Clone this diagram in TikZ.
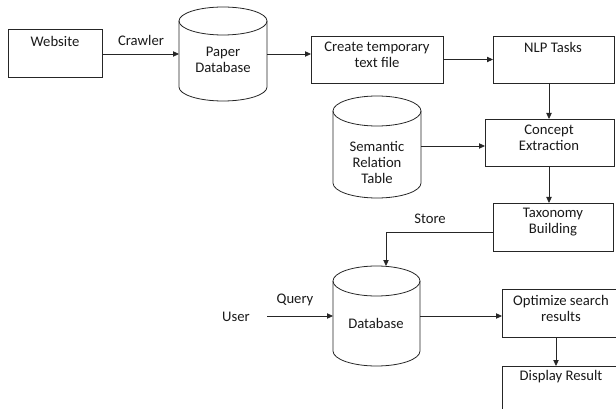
\documentclass[tikz,border=0pt]{standalone}
\usepackage{fontspec}
\setmainfont{Carlito}
\usetikzlibrary{arrows.meta,calc,fit}
\newcommand\mycyl[5]{%
  \pgfmathsetmacro\cylcx{(#1+#2)/2}%
  \pgfmathsetmacro\cylrx{(#2-#1)/2*0.75}%
  \pgfmathsetmacro\cylry{#5*0.75}%
  \draw[cylline] (\cylcx,#3+#5) ellipse [x radius=\cylrx pt, y radius=\cylry pt];
  \draw[cylline] (#1,#3+#5) -- (#1,#4-#5) arc[start angle=180, end angle=360, x radius=\cylrx pt, y radius=\cylry pt] -- (#2,#3+#5);
}
\begin{document}
\begin{tikzpicture}[x=0.75pt,y=-0.75pt,
  every node/.style={inner sep=0pt, outer sep=0pt},
  txt/.style={font=\fontsize{11}{12}\selectfont, align=center, text=black!90},
  box/.style={draw=black!85, line width=0.6pt, fit={#1}},
  cylnode/.style={fit={#1}},
  cylline/.style={draw=black!85, line width=0.6pt},
  conn/.style={draw=black!85, line width=0.6pt, -{Triangle[length=4.5pt,width=4pt]}}]
\useasboundingbox (0,0) rectangle (616,409);
\clip (0,0) rectangle (616,409);

% boxes
\node[box={(8,29) (102,77)}] (web) {};
\node[box={(311,36) (443,83)}] (create) {};
\node[box={(493,36) (614,83)}] (nlp) {};
\node[box={(485,119) (614,166)}] (concept) {};
\node[box={(493,203) (613,251)}] (tax) {};
\node[box={(502,289) (622,337)}] (opt) {};
\node[box={(502,366) (622,420)}] (disp) {};

% cylinders
\node[cylnode={(179,7) (267,101)}] (pdb) {};
\mycyl{179}{267}{7}{101}{14}
\node[cylnode={(333,96) (421,198)}] (sem) {};
\mycyl{333}{421}{96}{198}{15}
\node[cylnode={(333,266) (420,366)}] (db) {};
\mycyl{333}{420}{266}{366}{15}

% texts
\node[txt] (webt) at (55,41) {Website};
\node[txt] (crawler) at (141,40) {Crawler};
\node[txt] (pdbt) at (223,60) {Paper\\Database};
\node[txt] (createt) at (377,55) {Create temporary\\text file};
\node[txt] (nlpt) at (553,47) {NLP Tasks};
\node[txt] (conceptt) at (549,138) {Concept\\Extraction};
\node[txt] (semt) at (377,162) {Semantic\\Relation\\Table};
\node[txt] (taxt) at (553,222) {Taxonomy\\Building};
\node[txt] (store) at (430,219) {Store};
\node[txt] (dbt) at (376,323) {Database};
\node[txt] (user) at (236,317) {User};
\node[txt] (query) at (295,300) {Query};
\node[txt] (optt) at (561,308) {Optimize search\\results};
\node[txt] (dispt) at (561,377) {Display Result};

% connector helper coordinates
\coordinate (ustart) at (267,316);
\coordinate (taxout) at (493,232);
\coordinate (dbin) at (386,266);
\coordinate (optout) at (556,337);
\coordinate (dispin) at (556,366);
\coordinate (nlpout) at (549,83);

% connectors
\draw[conn] (web.east |- 0,54) -- (pdb.west |- 0,54);
\draw[conn] (pdb.east |- 0,54) -- (create.west |- 0,54);
\draw[conn] (create.east) -- (nlp.west);
\draw[conn] (nlpout) -- (nlpout |- concept.north);
\draw[conn] (sem.east |- 0,146) -- (concept.west |- 0,146);
\draw[conn] (nlpout |- concept.south) -- (nlpout |- tax.north);
\draw[conn] (taxout) -| (dbin);
\draw[conn] (ustart) -- (db.west);
\draw[conn] (db.east) -- (db.east -| opt.west);
\draw[conn] (optout) -- (dispin);
\end{tikzpicture}
\end{document}
